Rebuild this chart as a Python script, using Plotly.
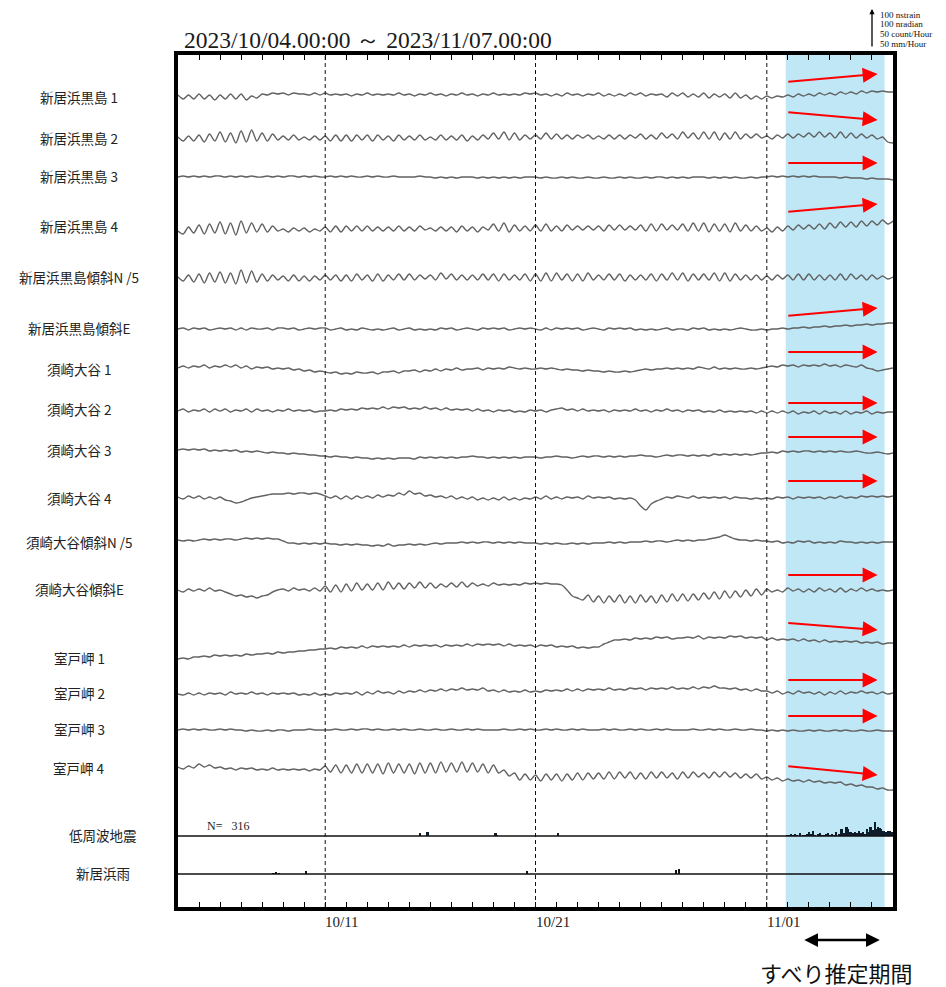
import plotly.graph_objects as go

# ------------------------------------------------------------------ data
TITLE = "2023/10/04.00:00 ～ 2023/11/07.00:00"
N_DAYS = 34                      # 2023/10/04 00:00 -> 2023/11/07 00:00
STEP_DAY = 0.25                  # 6-hour samples

STATION_NAMES = ["新居浜黒島 1", "新居浜黒島 2", "新居浜黒島 3", "新居浜黒島 4",
                 "新居浜黒島傾斜N /5", "新居浜黒島傾斜E",
                 "須崎大谷 1", "須崎大谷 2", "須崎大谷 3", "須崎大谷 4",
                 "須崎大谷傾斜N /5", "須崎大谷傾斜E",
                 "室戸岬 1", "室戸岬 2", "室戸岬 3", "室戸岬 4"]
EXTRA_NAMES = ["低周波地震", "新居浜雨"]

TICK_DAYS = [7, 17, 28]
TICK_LABELS = ["10/11", "10/21", "11/01"]
SLIP_PERIOD = [28.9, 33.6]       # すべり推定期間 (days from 10/04)
EQ_TOTAL = 316

SCALE_TEXT = ["100 nstrain", "100 nradian", "50 count/Hour", "50 mm/Hour"]

# Record deviations (record units, 43 units = 100 nstrain / 100 nradian), up = +
S01 = [1,-3,1,-3, 2,-3,1,-4, 1,-3,2,-3, 2,-4,0,-2, 2,1,3,2, 3,1,3,2, 2,1,3,1, 3,1,2,1,
       2,0,2,1, 3,1,2,1, 2,1,3,1, 2,0,2,1, 3,1,2,0, 2,1,3,1, 2,0,2,1, 3,1,2,1,
       2,1,3,2, 3,1,2,0, 2,0,3,1, 2,0,2,1, 3,0,2,0, 2,0,3,1, 3,0,2,1, 2,-1,3,0,
       3,-1,2,-1, 3,-2,2,-1, 2,-2,3,-2, 1,-3,0,-3, 0,-2,0,-1, 1,-1,2,0, 2,0,3,1,
       3,1,4,2, 4,2,5,3, 5,4,5,4, 4]
S02 = [1,-3,2,-3, 3,-4,4,-3, 6,-4,5,-5, 7,-4,8,-3, 5,-3,4,-2, 2,-2,3,-2, 1,-2,2,-2,
       2,-3,3,-3, 3,-3,3,-2, 3,-3,3,-2, 2,-3,3,-2, 2,-2,3,-2, 1,-2,3,-2, 2,-2,3,-3,
       2,-2,3,-1, 5,-1,6,-2, 5,-2,3,-1, 3,-1,5,-1, 4,-1,3,-1, 3,0,3,-1, 2,-1,3,-1,
       3,-1,3,0, 4,-1,3,-1, 5,0,4,-1, 6,0,5,-1, 6,-1,6,-2, 5,-1,6,-1, 4,0,4,0,
       2,-1,3,0, 4,0,4,1, 5,1,6,1, 5,0,6,0, 5,0,4,0, 3,-1,1,-4, -5]
S03 = [0,1,0,1, 0,1,0,1, 1,0,1,0, 1,0,1,0, 0,1,0,1, 0,1,1,0, 1,0,1,0, 0,1,0,1,
       0,1,0,0, 1,0,1,0, 0,1,0,0, 0,0,1,0, 0,-1,0,-1, 0,-1,0,0, 0,-1,0,-1, 0,-1,0,-1,
       0,-1,0,0, 0,-1,0,-1, -1,0,-1,0, -1,-1,0,-1, -1,0,-1,-1, 0,-1,0,-1, -1,0,-1,0,
       0,-1,0,-1, 0,-1,0,0, 0,-1,0,-1, 0,-1,0,-1, -1,0,-1,0, 0,1,0,1, 0,1,0,1,
       0,1,0,0, 0,0,-1,0, -1,-1,-1,-2, -1,-2,-2,-2, -3]
S04 = [-2,-5,2,-4, 4,-5,5,-4, 7,-5,6,-6, 8,-4,6,-3, 5,-3,3,-2, 0,-3,1,-2, 1,-3,0,-2,
       2,-3,3,-3, 3,-2,3,-2, 3,-2,2,-2, 2,-2,3,-2, 2,-2,3,-1, 1,-2,2,-2, 2,-3,3,-2,
       2,-3,2,-1, 5,-2,6,-3, 4,-2,3,-2, 4,-2,5,-2, 3,-2,4,-1, 3,-1,3,-1, 3,-2,4,-1,
       4,-1,3,-1, 4,-2,5,-2, 5,-1,4,-1, 5,-2,6,-2, 6,-3,5,-2, 5,-3,6,-2, 4,-2,3,-2,
       1,-3,2,-2, 3,-1,4,0, 4,0,5,0, 6,1,7,2, 7,2,8,3, 8,4,9,5, 8]
S05 = [1,-3,3,-4, 4,-5,5,-4, 6,-5,5,-6, 8,-5,7,-4, 4,-3,3,-2, 2,-3,3,-3, 2,-3,2,-2,
       3,-2,3,-3, 3,-3,4,-2, 3,-3,4,-3, 3,-2,4,-2, 4,-2,3,-1, 3,-2,5,-1, 4,-2,3,-2,
       3,-2,4,-2, 4,-3,4,-2, 3,-2,4,-3, 4,-3,5,-3, 5,-2,4,-3, 4,-3,5,-2, 3,-2,4,-2,
       4,-3,3,-2, 3,-2,4,-3, 4,-2,5,-2, 5,-3,4,-2, 4,-2,5,-3, 5,-3,4,-2, 3,-2,3,-2,
       2,-2,3,-1, 3,-2,4,-2, 4,-2,3,-2, 3,-2,4,-2, 4,-1,3,-2, 3,-1,2,-1, 1]
S06 = [0,1,-1,1, 0,1,-1,0, 1,0,1,-1, 1,-1,1,0, 0,1,-1,1, 1,0,1,-1, 0,1,0,1,
       1,-1,0,1, -1,0,-1,1, 0,-1,0,-1, 0,1,-1,0, 1,-1,0,-1, 0,-1,1,0, 1,-1,0,1,
       0,-1,1,0, 1,0,1,-1, 0,1,0,1, 0,-1,1,-1, 1,0,1,0, 1,-1,0,1, 0,-1,1,0,
       1,0,1,-1, 0,-1,0,-1, 0,1,-1,0, 0,-1,1,0, 1,-1,0,-1, 0,-1,0,1, 0,-1,-1,0,
       -1,0,0,1, 0,1,1,2, 1,2,2,3, 2,3,3,4, 3,4,4,5, 4,5,5,6, 6]
S07 = [1,3,1,3, 2,4,1,3, 2,4,2,4, 1,3,0,2, 1,2,0,1, 0,1,-1,0, -2,-1,-3,-2,
       -3,-4,-3,-5, -4,-5,-3,-4, -4,-3,-5,-3, -3,-2,-4,-2, -2,-1,-3,-1, -2,0,-2,0,
       -1,1,-1,0, 0,1,-1,1, 0,1,0,2, 1,0,1,0, 0,1,0,1, 0,-1,0,-1, -1,-2,-1,-2,
       -2,-3,-2,-3, -3,-2,-3,-2, -1,0,-1,0, 0,1,0,1, 0,1,0,2, 1,0,2,0, 1,0,1,0,
       0,1,0,1, 2,3,2,4, 3,4,2,4, 3,4,3,5, 3,4,2,4, 3,2,4,1, 0,-2,-1,0, 1]
S08 = [-1,1,-2,0, -1,1,-2,1, -1,1,-2,0, -1,1,-2,1, -1,0,-2,0, -1,1,-1,0, -1,0,-2,-1,
       -1,0,-1,1, 0,1,0,2, 1,2,1,3, 1,3,2,3, 1,2,1,3, 1,2,0,2, 0,1,0,1,
       -1,1,-1,0, -2,0,-1,0, -2,-1,-2,0, -1,0,-2,0, 1,2,0,1, -1,1,-1,0, -1,0,-2,0,
       -1,0,-1,1, -1,0,-2,0, -1,1,-1,0, -2,0,-1,0, -2,-1,-2,0, -2,-1,-2,-1, -2,-1,-3,-1,
       -3,-1,-3,-1, -3,-1,-4,-2, -3,-1,-4,-1, -3,-2,-4,-1, -4,-2,-3,-1, -4,-2,-3,-2, -2]
S09 = [4,5,4,5, 4,5,3,4, 3,4,3,4, 2,3,2,3, 2,1,2,1, 1,0,1,0, 0,-1,-1,-2,
       -2,-3,-2,-3, -3,-4,-3,-4, -4,-5,-4,-5, -4,-5,-4,-4, -4,-5,-3,-4, -3,-4,-3,-4,
       -3,-4,-3,-3, -2,-3,-3,-4, -3,-4,-3,-4, -3,-4,-3,-3, -3,-4,-3,-3, -2,-3,-3,-4,
       -3,-2,-3,-2, -2,-3,-2,-3, -2,-3,-2,-2, -1,-2,-2,-3, -2,-1,-2,-1, -1,-2,-1,-2,
       -1,-2,0,-1, 0,-1,0,-1, 0,-1,0,1, 1,2,1,3, 2,3,2,3, 3,2,3,2, 3,2,3,2,
       2,3,2,1, 1,2,1,0, 1]
S10 = [1,-1,2,0, 2,-1,1,-1, 1,-2,-3,-5, -4,-2,0,1, 2,3,4,4, 4,5,4,5, 5,4,5,4,
       2,0,2,-1, 2,-1,2,0, 2,0,3,1, 3,2,5,3, 7,4,5,2, 3,1,2,0, 2,-1,1,-1,
       1,-2,0,-2, 0,-2,1,-2, 0,-2,0,-1, 1,-1,2,-1, 1,-1,1,0, 1,-1,2,0, 1,0,1,-1,
       0,-1,0,-2, -8,-12,-6,-3, -1,1,0,2, 1,0,2,0, 1,0,1,0, 1,-1,1,0, 0,-1,0,-1,
       0,-1,1,0, 1,-1,1,0, 1,0,1,-1, 1,0,2,0, 1,0,2,1, 2,1,2,1, 2]
S11 = [2,1,2,1, 2,3,2,3, 2,3,3,2, 3,4,3,4, 3,4,3,3, 1,-1,-1,-2, -1,-2,-1,-2,
       -1,-2,-2,-3, -2,-3,-2,-3, -3,-4,-3,-4, -2,-4,-3,-3, -2,-3,-2,-3, -2,-1,-2,-1,
       -1,-1,0,-1, 0,-1,0,0, -1,0,-1,0, -1,0,-1,-1, -1,-2,-1,-2, -1,-2,-2,-1, -2,-1,-2,-1,
       -1,-1,0,-1, 0,-1,0,0, 0,1,0,1, 1,0,1,2, 1,2,1,2, 2,3,4,5, 7,5,3,2,
       2,1,2,1, 1,0,1,-1, 0,-1,1,0, 1,-1,0,-1, 0,-1,1,0, 0,-1,0,-1, 0,-1,0,0, 0]
S12 = [0,-2,1,-1, 1,-1,2,-1, 0,-2,-4,-6, -5,-7,-6,-8, -6,-5,-2,0, 1,-1,2,0, 1,-1,2,-1,
       4,-2,5,-2, 6,-1,7,0, 6,0,7,0, 8,1,7,1, 7,2,8,2, 7,2,6,3, 7,3,8,3,
       7,4,6,4, 7,5,6,5, 6,5,7,6, 7,6,7,6, 6,5,0,-6, -8,-10,-5,-12, -6,-13,-6,-12,
       -5,-13,-6,-13, -5,-12,-6,-13, -5,-12,-4,-11, -4,-11,-4,-10, -3,-9,-2,-9, -1,-8,-1,-7, 0,-6,1,-5,
       1,-2,0,-2, 2,-1,1,-2, 1,-2,2,-1, 1,-2,2,-2, 1,-1,2,-1, 1,-1,0,-1, 0]
S13 = [-1,0,-1,1, 1,2,1,3, 2,3,2,3, 2,4,3,4, 4,5,4,6, 5,6,6,7, 7,8,8,9,
       9,10,9,11, 10,11,10,12, 10,12,11,12, 11,12,11,13, 11,13,12,13, 12,13,11,13, 12,13,12,14,
       12,14,13,14, 13,14,12,14, 12,13,12,13, 11,13,12,13, 11,12,11,12, 10,11,10,11, 11,14,16,18,
       18,19,18,20, 19,20,19,21, 20,21,19,20, 20,21,20,22, 19,21,20,21, 20,22,21,22, 20,21,20,21,
       18,20,18,19, 18,19,17,19, 17,18,16,18, 16,17,16,17, 16,17,15,16, 15,16,14,15, 15]
S14 = [0,-1,1,-1, 1,-1,1,0, 1,-1,2,0, 1,0,2,0, 1,-1,1,0, 1,0,1,-1, 0,-1,1,-1,
       0,-1,1,0, 1,0,2,-1, 2,0,3,1, 2,0,3,1, 3,2,4,2, 4,3,5,3, 5,4,6,4,
       5,4,6,3, 4,2,4,2, 3,2,4,2, 3,2,4,3, 4,3,5,3, 5,3,5,4, 5,4,6,4,
       5,4,6,5, 6,4,6,5, 6,5,7,5, 6,5,7,5, 7,6,8,6, 6,5,6,4, 5,3,5,3,
       3,1,3,0, 2,0,3,1, 2,0,2,-1, 2,0,3,0, 2,1,3,1, 2,0,2,0, 1]
S15 = [0,1,0,1, 0,1,0,0, 1,0,1,0, 0,-1,0,-1, -1,0,-1,0, 0,-1,0,0, 0,1,0,0,
       0,0,1,0, 0,1,0,1, 1,0,1,0, 0,1,0,1, 0,0,1,0, 0,1,0,0, 1,0,0,1,
       0,1,0,0, 0,0,1,0, 0,1,0,1, 0,0,1,0, 1,0,0,1, 0,1,0,0, 0,1,0,1,
       0,0,1,0, 1,0,0,1, 0,1,0,0, 0,0,1,0, 0,1,0,1, 0,0,1,0, 0,1,0,0,
       -1,0,-1,0, -1,0,-1,-1, 0,-1,0,-1, -1,0,-1,0, -1,-1,0,-1, -1,0,-1,-1, -1]
S16 = [1,-1,2,0, 4,1,3,0, 1,-1,0,-2, 0,-1,0,-2, -1,-2,0,-2, -1,-2,-1,-2, -1,-3,-1,-2,
       2,-4,3,-5, 3,-5,4,-5, 4,-5,4,-6, 5,-5,4,-5, 4,-6,5,-5, 5,-5,6,-4, 5,-4,6,-4,
       5,-4,4,-5, 3,-5,-2,-8, -5,-12,-6,-12, -7,-13,-6,-12, -6,-13,-6,-12, -5,-12,-5,-11, -5,-11,-4,-11,
       -4,-10,-4,-11, -5,-11,-4,-10, -4,-10,-5,-11, -4,-10,-4,-9, -5,-10,-4,-9, -4,-9,-5,-10, -6,-10,-6,-11,
       -9,-12,-10,-13, -11,-13,-12,-14, -12,-14,-13,-15, -14,-15,-14,-17, -16,-18,-17,-19, -19,-21,-20,-22, -22]
SERIES = [S01, S02, S03, S04, S05, S06, S07, S08, S09, S10, S11, S12, S13, S14, S15, S16]

# Low-frequency earthquakes (count / hour) and Niihama rain (mm / hour)
EQ_DAY = [11.5, 11.83, 11.9, 15.1, 15.15, 18.05,
          28.95, 29.05, 29.15, 29.25, 29.35, 29.45, 29.57, 29.7, 29.8, 29.9,
          30.01, 30.1, 30.2, 30.3, 30.42, 30.52, 30.62, 30.72, 30.82, 30.91,
          31.0, 31.1, 31.2, 31.31, 31.43, 31.55, 31.67, 31.79, 31.88, 31.98,
          32.08, 32.18, 32.28, 32.39, 32.48, 32.58, 32.68, 32.77, 32.85, 32.93,
          33.03, 33.13, 33.21, 33.29, 33.37, 33.45, 33.55, 33.65, 33.75, 33.84, 33.93]
EQ_COUNT = [4, 5, 5, 4, 1, 3,
            1, 1, 2, 1, 2, 1, 3, 1, 1, 2,
            5, 2, 6, 1, 2, 4, 1, 1, 2, 4,
            1, 2, 1, 5, 2, 8, 3, 10, 8, 5,
            3, 5, 4, 6, 3, 5, 2, 8, 5, 10,
            7, 16, 8, 10, 9, 8, 6, 5, 6, 6, 5]
RAIN_DAY = [4.55, 4.68, 4.8, 6.1, 16.6, 23.7, 23.82]
RAIN_MM = [1, 2, 1, 4, 3, 5, 6]

# ------------------------------------------------------------------ layout constants
PAGE_OFFSET = 8                              # default body margin of the page
W, H = 946 - PAGE_OFFSET, 987 - PAGE_OFFSET
PL, PR, PT, PB = 178, 893, 55, 907          # plot-area edges in page pixels
ROW_Y = [96, 138, 177, 229, 278, 329, 369, 410, 454, 498, 542, 590, 658, 694, 730, 768]
LABEL_Y = [97, 138, 176, 226, 277, 328, 369, 409, 450, 498, 542, 589, 658, 693, 729, 768]
EXTRA_ROW_Y = [836, 874]
EQ_PX = 43 / 50
RAIN_PX = 43 / 50
# red arrows in the slip window: (start y, end y) in page pixels
RED_ARROWS = [(82, 74), (112, 120), (163, 163), (212, 204), (316, 308), (352, 352),
              (403, 403), (437, 437), (481, 481), (575, 575), (623, 630), (680, 680),
              (716, 716), (766, 775)]
ARROW_X = [28.95, 33.27]


def pxx(px):
    return (px - PL) / (PR - PL)


def pxy(py):
    return (PB - py) / (PB - PT)


SERIF = "Liberation Serif, Times New Roman, serif"
SANS = "Noto Sans CJK JP, Noto Sans, sans-serif"

fig = go.Figure()

for vals, base in zip(SERIES, ROW_Y):
    xs = [i * STEP_DAY for i in range(len(vals))]
    ys = [base - v for v in vals]
    fig.add_trace(go.Scatter(x=xs, y=ys, mode="lines",
                             line=dict(color="#626262", width=1.4, shape="spline", smoothing=0.8),
                             hoverinfo="skip", showlegend=False))

fig.add_trace(go.Bar(x=EQ_DAY, y=[-c * EQ_PX for c in EQ_COUNT], base=EXTRA_ROW_Y[0],
                     width=0.1, marker=dict(color="#0e1c2c", line=dict(width=0)),
                     showlegend=False, hoverinfo="skip"))
fig.add_trace(go.Bar(x=RAIN_DAY, y=[-r * RAIN_PX for r in RAIN_MM], base=EXTRA_ROW_Y[1],
                     width=0.08, marker=dict(color="#111111", line=dict(width=0)),
                     showlegend=False, hoverinfo="skip"))

shapes = [dict(type="rect", xref="x", yref="paper", x0=SLIP_PERIOD[0], x1=SLIP_PERIOD[1],
               y0=0, y1=1, fillcolor="#bfe7f6", line=dict(width=0), layer="below")]
for d in TICK_DAYS:
    shapes.append(dict(type="line", xref="x", yref="paper", x0=d, x1=d, y0=0, y1=1,
                       line=dict(color="#111111", width=1, dash="4px,3px")))
for yb in EXTRA_ROW_Y:
    shapes.append(dict(type="line", xref="paper", yref="y", x0=0, x1=1, y0=yb, y1=yb,
                       line=dict(color="#111111", width=1.3)))

ann = []
ann.append(dict(text=TITLE, xref="paper", yref="paper", x=pxx(182), y=pxy(40),
                xanchor="left", yanchor="middle", showarrow=False,
                font=dict(family=SERIF, size=23.5, color="#1a1a1a")))
for name, ly in zip(STATION_NAMES, LABEL_Y):
    ann.append(dict(text=name, xref="paper", yref="y", x=pxx(79), y=ly,
                    xanchor="center", yanchor="middle", showarrow=False,
                    font=dict(family=SANS, size=13.5, color="#222222")))
for name, ly in zip(EXTRA_NAMES, EXTRA_ROW_Y):
    ann.append(dict(text=name, xref="paper", yref="y", x=pxx(103), y=ly - 1,
                    xanchor="center", yanchor="middle", showarrow=False,
                    font=dict(family=SANS, size=13.5, color="#222222")))
for d, lab in zip(TICK_DAYS, TICK_LABELS):
    ann.append(dict(text=lab, xref="x", yref="paper", x=d, y=pxy(922),
                    xanchor="left", yanchor="middle", showarrow=False, xshift=-2,
                    font=dict(family=SERIF, size=15, color="#222222")))
ann.append(dict(text=f"N=   {EQ_TOTAL}", xref="x", yref="y", x=1.3, y=826,
                xanchor="left", yanchor="middle", showarrow=False,
                font=dict(family=SERIF, size=12, color="#222222")))
for y0, y1 in RED_ARROWS:
    ann.append(dict(text="", xref="x", yref="y", axref="x", ayref="y",
                    x=ARROW_X[1], y=y1, ax=ARROW_X[0], ay=y0, showarrow=True,
                    arrowhead=2, arrowsize=1.5, arrowwidth=2, arrowcolor="#ff0000"))
# slip-period double arrow and caption
ann.append(dict(text="", xref="x", yref="paper", x=33.37, y=pxy(940),
                axref="x", ayref="pixel", ax=29.71, ay=0, showarrow=True,
                arrowhead=2, arrowside="end+start", arrowsize=1.1, arrowwidth=2.5,
                arrowcolor="#000000"))
ann.append(dict(text="すべり推定期間", xref="paper", yref="paper", x=pxx(836), y=pxy(972),
                xanchor="center", yanchor="middle", showarrow=False,
                font=dict(family=SANS, size=22, color="#111111")))
# amplitude scale (top right)
ann.append(dict(text="", xref="paper", yref="paper", x=pxx(872), y=pxy(9),
                ax=0, ay=39, showarrow=True, arrowhead=2, arrowsize=0.8,
                arrowwidth=1.3, arrowcolor="#000000"))
for i, t in enumerate(SCALE_TEXT):
    ann.append(dict(text=t, xref="paper", yref="paper", x=pxx(878), y=pxy(15 + 9.5 * i),
                    xanchor="left", yanchor="middle", showarrow=False,
                    font=dict(family=SERIF, size=9, color="#111111")))

fig.update_layout(
    width=W, height=H,
    margin=dict(l=PL - PAGE_OFFSET, r=W - (PR - PAGE_OFFSET), t=PT - PAGE_OFFSET,
                b=H - (PB - PAGE_OFFSET), pad=0),
    paper_bgcolor="white", plot_bgcolor="white",
    barmode="overlay", bargap=0,
    showlegend=False,
    shapes=shapes, annotations=ann,
    xaxis=dict(range=[0, N_DAYS], showgrid=False, zeroline=False,
               showline=True, linewidth=3.5, linecolor="#000000", mirror="ticks",
               ticks="inside", ticklen=5, tickwidth=1.2, tickcolor="#000000",
               tick0=0, dtick=1, showticklabels=False, fixedrange=True),
    yaxis=dict(range=[PB, PT], showgrid=False, zeroline=False,
               showline=True, linewidth=3.5, linecolor="#000000", mirror=True,
               ticks="", showticklabels=False, fixedrange=True),
)

fig.write_html("out.html")
